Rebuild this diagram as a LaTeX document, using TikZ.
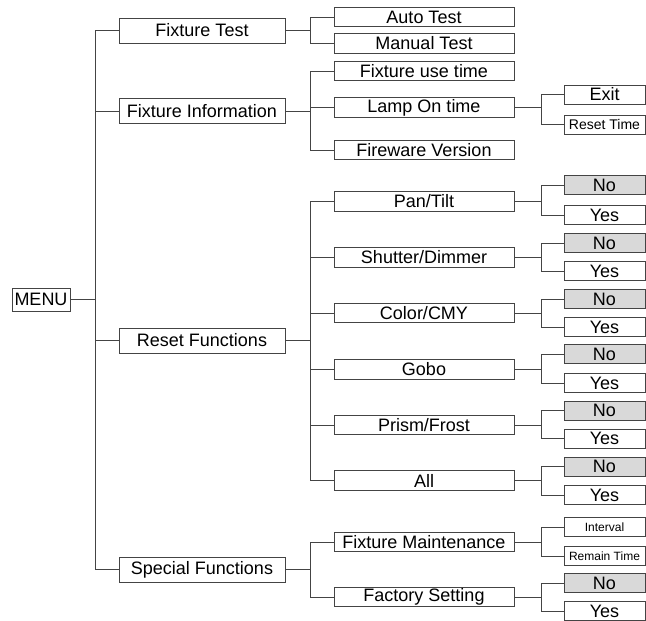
\documentclass[tikz,border=0pt]{standalone}
\usepackage{fontspec}
\setmainfont{Liberation Sans}
\definecolor{ln}{HTML}{444444}
\definecolor{nofill}{HTML}{D9D9D9}
\tikzset{
  box/.style={draw=ln, line width=0.9pt, inner sep=0pt, fill=white, font=\fontsize{18}{18}\selectfont},
  lone/.style={box, minimum width=166pt, minimum height=25pt},
  ltwo/.style={box, minimum width=180pt, minimum height=19.5pt},
  lthree/.style={box, minimum width=81pt, minimum height=19pt},
  nobox/.style={lthree, fill=nofill},
  conn/.style={draw=ln, line width=0.9pt},
}
\begin{document}
\begin{tikzpicture}[x=1pt,y=-1pt]
\useasboundingbox (0,0) rectangle (646,621);
\coordinate (t0) at (95,0);
\coordinate (t1) at (310,0);
\coordinate (t2) at (541,0);
% root
\node[box, minimum width=58pt, minimum height=23pt] (menu) at (41,299.5) {MENU};
% level 1
\node[lone] (ft) at (202,30.5) {Fixture Test};
\node[lone] (fi) at (202,111) {Fixture Information};
\node[lone] (rf) at (202,340.5) {Reset Functions};
\node[lone] (sf) at (202,569.5) {Special Functions};
% level 2
\node[ltwo] (auto) at (424,17) {Auto Test};
\node[ltwo] (man) at (424,43.5) {Manual Test};
\node[ltwo] (fut) at (424,71) {Fixture use time};
\node[ltwo] (lot) at (424,107.5) {Lamp On time};
\node[ltwo] (fv) at (424,150) {Fireware Version};
\node[ltwo] (pan) at (424,201.5) {Pan/Tilt};
\node[ltwo] (shu) at (424,257.5) {Shutter/Dimmer};
\node[ltwo] (col) at (424,313) {Color/CMY};
\node[ltwo] (gob) at (424,369.5) {Gobo};
\node[ltwo] (pri) at (424,425) {Prism/Frost};
\node[ltwo] (all) at (424,480.5) {All};
\node[ltwo] (fm) at (424,542) {Fixture Maintenance};
\node[ltwo] (fs) at (424,597) {Factory Setting};
% level 3
\node[lthree] (exit) at (604.5,94.5) {Exit};
\node[lthree, font=\fontsize{14}{14}\selectfont] (rt) at (604.5,124.5) {Reset Time};
\node[nobox] (no1) at (604.5,185) {No};
\node[lthree] (yes1) at (604.5,215) {Yes};
\node[nobox] (no2) at (604.5,243) {No};
\node[lthree] (yes2) at (604.5,271) {Yes};
\node[nobox] (no3) at (604.5,299) {No};
\node[lthree] (yes3) at (604.5,327) {Yes};
\node[nobox] (no4) at (604.5,354) {No};
\node[lthree] (yes4) at (604.5,383) {Yes};
\node[nobox] (no5) at (604.5,410.5) {No};
\node[lthree] (yes5) at (604.5,438.5) {Yes};
\node[nobox] (no6) at (604.5,466.5) {No};
\node[lthree] (yes6) at (604.5,495) {Yes};
\node[lthree, font=\fontsize{12}{12}\selectfont] (iv) at (604.5,527) {Interval};
\node[lthree, font=\fontsize{12}{12}\selectfont] (rem) at (604.5,556) {Remain Time};
\node[nobox] (no7) at (604.5,583) {No};
\node[lthree] (yes7) at (604.5,611) {Yes};
% connectors level 0-1
\draw[conn] (menu.east) -- (menu.east -| t0);
\draw[conn] (ft.west) -- (ft.west -| t0) |- (sf.west);
\draw[conn] (fi.west) -- (fi.west -| t0);
\draw[conn] (rf.west) -- (rf.west -| t0);
% level 1-2
\draw[conn] (ft.east) -- (ft.east -| t1);
\draw[conn] (auto.west) -- (auto.west -| t1) |- (man.west);
\draw[conn] (fi.east) -- (fi.east -| t1);
\draw[conn] (fut.west) -- (fut.west -| t1) |- (fv.west);
\draw[conn] (lot.west) -- (lot.west -| t1);
\draw[conn] (rf.east) -- (rf.east -| t1);
\draw[conn] (pan.west) -- (pan.west -| t1) |- (all.west);
\foreach \n in {shu,col,gob,pri} \draw[conn] (\n.west) -- (\n.west -| t1);
\draw[conn] (sf.east) -- (sf.east -| t1);
\draw[conn] (fm.west) -- (fm.west -| t1) |- (fs.west);
% level 2-3
\draw[conn] (lot.east) -- (lot.east -| t2);
\draw[conn] (exit.west) -- (exit.west -| t2) |- (rt.west);
\foreach \p/\a/\b in {pan/no1/yes1, shu/no2/yes2, col/no3/yes3, gob/no4/yes4, pri/no5/yes5, all/no6/yes6, fm/iv/rem, fs/no7/yes7} {
  \draw[conn] (\p.east) -- (\p.east -| t2);
  \draw[conn] (\a.west) -- (\a.west -| t2) |- (\b.west);
}
\end{tikzpicture}
\end{document}
